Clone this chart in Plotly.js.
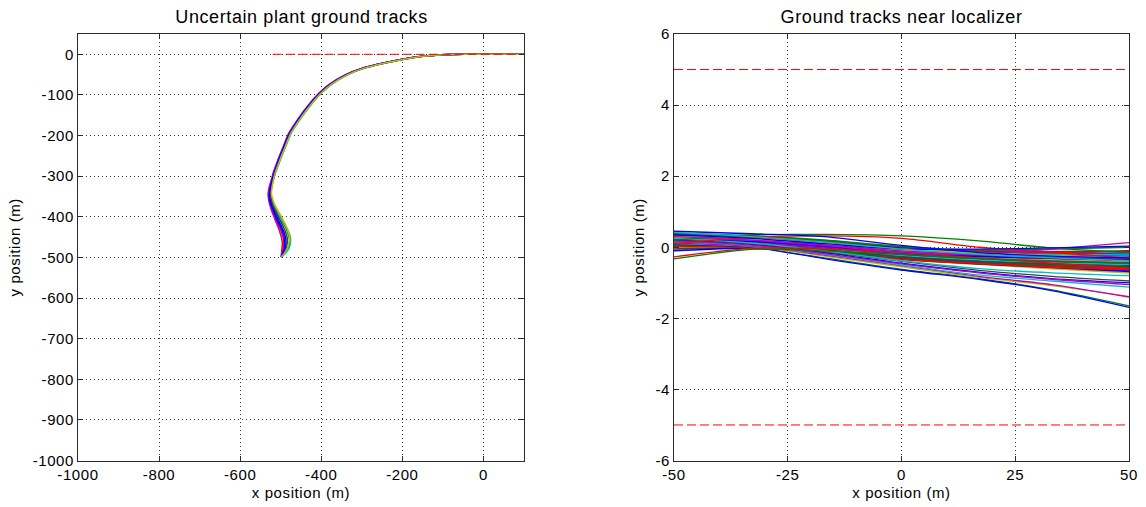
<!DOCTYPE html>
<html>
<head>
<meta charset="utf-8">
<script src="https://cdn.plot.ly/plotly-3.0.1.min.js"></script>
<style>
  html, body { margin: 0; padding: 0; background: #ffffff; }
  #chart { width: 1146px; height: 507px; }
  #chart text { letter-spacing: 0.6px; }
</style>
</head>
<body>
<div id="chart"></div>
<script>
// ---- Uncertain plant ground tracks (whole approach, metres) ----
// Every track shares the same y sample levels; x is listed per track.
var trackLevels = [-499,-490,-478,-465,-452,-438,-424,-410,-396,-383,-370,-356,-342,-325,-309,-290,-276,-255,-235,-215,-194,-157,-124,-96,-75,-50,-34,-22,-12,-5,-1,0,0,0];

var trackA = [-499,-494,-489,-487,-488,-492,-498,-505,-511,-517,-522,-526,-527,-524,-520,-515,-510,-502,-494,-486,-477,-453,-428,-403,-379,-337,-296,-247,-198,-150,-100,-50,0,100];
var trackB = [-499,-490,-481,-478,-479,-483,-489,-497,-504,-511,-517,-522,-524,-522,-518,-513,-508,-500,-492,-484,-475,-451,-426,-401,-377,-335,-294,-245,-196,-149,-99,-50,0,100];
var trackC = [-499,-497,-494,-493,-494,-498,-504,-511,-517,-522,-526,-529,-530,-527,-522,-517,-512,-504,-496,-488,-479,-455,-430,-405,-381,-339,-298,-249,-200,-151,-101,-50,0,100];
var trackD = [-499,-488,-480,-476,-476,-480,-487,-496,-504,-512,-518,-523,-525,-523,-519,-512,-507,-499,-491,-483,-474,-450,-425,-400,-376,-334,-293,-244,-195,-148,-99,-50,0,100];
var trackE = [-499,-498,-497,-496,-498,-502,-507,-513,-518,-523,-527,-530,-531,-528,-523,-518,-513,-505,-497,-489,-480,-456,-431,-406,-382,-340,-299,-250,-201,-152,-101,-50,0,100];
var trackF = [-499,-492,-486,-484,-484,-488,-494,-501,-508,-514,-520,-524,-526,-523,-519,-514,-509,-501,-493,-485,-476,-452,-427,-402,-378,-336,-295,-246,-197,-149,-100,-50,0,100];
var trackG = [-499,-495,-491,-490,-491,-495,-501,-508,-514,-519,-524,-528,-528,-525,-521,-516,-511,-503,-495,-487,-478,-454,-429,-404,-380,-338,-297,-248,-199,-151,-100,-50,0,100];
var trackH = [-499,-491,-484,-480,-478,-481,-486,-493,-500,-508,-515,-520,-523,-521,-518,-513,-508,-500,-492,-484,-475,-451,-426,-401,-377,-335,-294,-245,-196,-149,-99,-50,0,100];
var wideTracks = [trackA, trackB, trackC, trackD, trackE, trackF, trackG, trackH];
var wideColors = ['b', 'g', 'r', 'c', 'm', 'k', 'b', 'y'];

// Runway centreline on the wide view
var centerlineX = [-520, 100];
var centerlineY = [0, 0];

// ---- Ground tracks near the localizer (metres) ----
var nearX = [-50, -33, -17, 0, 17, 33, 50];

// the dense bundle (coloured in plotting order)
var bundleTracks = [
  [0.35, 0.28, 0.15, -0.05, -0.15, -0.20, -0.25],
  [0.30, 0.25, 0.10, -0.10, -0.20, -0.25, -0.30],
  [0.28, 0.20, 0.05, -0.15, -0.25, -0.30, -0.35],
  [0.25, 0.20, 0.08, -0.12, -0.28, -0.35, -0.40],
  [0.22, 0.15, 0.00, -0.20, -0.30, -0.38, -0.45],
  [0.20, 0.15, 0.02, -0.18, -0.32, -0.40, -0.50],
  [0.18, 0.12, -0.02, -0.22, -0.35, -0.42, -0.48],
  [0.15, 0.10, -0.05, -0.25, -0.38, -0.45, -0.55],
  [0.12, 0.08, -0.08, -0.28, -0.40, -0.48, -0.58],
  [0.10, 0.05, -0.10, -0.30, -0.42, -0.50, -0.60],
  [0.32, 0.22, 0.08, -0.08, -0.18, -0.22, -0.15],
  [0.05, 0.02, -0.12, -0.32, -0.45, -0.55, -0.65],
  [0.00, 0.00, -0.15, -0.35, -0.48, -0.60, -0.72],
  [0.38, 0.30, 0.18, 0.00, -0.10, -0.12, -0.10],
  [0.27, 0.22, 0.12, -0.02, -0.12, -0.18, -0.20],
  [0.24, 0.18, 0.06, -0.14, -0.24, -0.30, -0.33],
  [0.20, 0.17, 0.04, -0.16, -0.27, -0.33, -0.38],
  [0.16, 0.14, 0.00, -0.20, -0.33, -0.37, -0.42],
  [0.14, 0.10, -0.03, -0.24, -0.36, -0.43, -0.52],
  [0.08, 0.06, -0.07, -0.27, -0.39, -0.46, -0.53],
  [-0.05, -0.02, -0.10, -0.30, -0.44, -0.52, -0.62],
  [-0.10, -0.03, -0.13, -0.33, -0.47, -0.57, -0.68],
  [0.40, 0.32, 0.20, 0.02, -0.08, -0.05, 0.00],
  [0.33, 0.27, 0.14, -0.04, -0.13, -0.15, -0.12],
  [0.30, 0.23, 0.10, -0.07, -0.17, -0.20, -0.22],
  [0.26, 0.19, 0.07, -0.10, -0.22, -0.28, -0.30],
  [0.23, 0.16, 0.03, -0.17, -0.29, -0.36, -0.42],
  [0.19, 0.13, -0.01, -0.21, -0.34, -0.41, -0.47],
  [0.13, 0.09, -0.06, -0.26, -0.37, -0.44, -0.50],
  [0.06, 0.04, -0.09, -0.29, -0.41, -0.49, -0.57],
  [0.02, 0.01, -0.14, -0.34, -0.46, -0.56, -0.62],
  [0.09, 0.07, -0.06, -0.24, -0.36, -0.44, -0.48],
  [0.17, 0.13, 0.01, -0.19, -0.31, -0.39, -0.44],
  [0.29, 0.24, 0.11, -0.06, -0.16, -0.24, -0.28],
  [0.11, 0.07, -0.07, -0.27, -0.40, -0.47, -0.54],
  [0.21, 0.16, 0.03, -0.16, -0.26, -0.31, -0.36]
];

// tracks that leave the main bundle
var outlierTracks = [
  [0.05, 0.00, -0.30, -0.62, -0.88, -1.20, -1.65],
  [0.08, 0.00, -0.32, -0.64, -0.90, -1.22, -1.69],
  [0.10, 0.02, -0.25, -0.55, -0.85, -1.08, -1.38],
  [0.12, 0.03, -0.22, -0.52, -0.82, -1.05, -1.40],
  [0.15, 0.05, -0.20, -0.50, -0.78, -0.95, -1.12],
  [0.20, 0.08, -0.15, -0.45, -0.70, -0.88, -1.00],
  [0.18, 0.06, -0.18, -0.47, -0.72, -0.90, -1.05],
  [0.22, 0.10, -0.12, -0.40, -0.65, -0.82, -0.95],
  [0.25, 0.12, -0.10, -0.38, -0.60, -0.72, -0.80],
  [-0.27, -0.03, -0.05, -0.15, -0.30, -0.45, -0.60],
  [-0.33, -0.06, -0.10, -0.20, -0.32, -0.40, -0.45],
  [0.20, 0.35, 0.36, 0.32, 0.18, -0.02, -0.15],
  [0.10, 0.28, 0.32, 0.25, 0.00, -0.15, -0.30],
  [0.30, 0.20, 0.05, -0.15, -0.20, -0.05, 0.13],
  [0.35, 0.25, 0.10, -0.05, -0.05, -0.02, 0.03],
  [0.45, 0.38, 0.30, 0.05, -0.15, -0.25, -0.30],
  [0.42, 0.30, 0.15, -0.05, -0.20, -0.30, -0.38]
];
var outlierColors = ['g', 'b', 'y', 'm', 'c', 'b', 'm', 'k', 'c', 'r', 'g', 'g', 'r', 'm', 'b', 'b', 'c'];

// Lateral limits of the localizer window
var limitX = [-50, 50];
var upperLimitY = [5, 5];
var lowerLimitY = [-5, -5];

// Tick labels (plain hyphen minus)
var wideXTicks = [-1000, -800, -600, -400, -200, 0];
var wideXText = ['-1000', '-800', '-600', '-400', '-200', '0'];
var wideYTicks = [0, -100, -200, -300, -400, -500, -600, -700, -800, -900, -1000];
var wideYText = ['0', '-100', '-200', '-300', '-400', '-500', '-600', '-700', '-800', '-900', '-1000'];
var nearXTicks = [-50, -25, 0, 25, 50];
var nearXText = ['-50', '-25', '0', '25', '50'];
var nearYTicks = [6, 4, 2, 0, -2, -4, -6];
var nearYText = ['6', '4', '2', '0', '-2', '-4', '-6'];

// Classic line colour letters
var palette = { b: '#0000ff', g: '#008000', r: '#ff0000', c: '#00bfbf', m: '#bf00bf', y: '#bfbf00', k: '#404040' };
var cycle = ['b', 'g', 'r', 'c', 'm', 'y', 'k'];

var traces = [];

wideTracks.forEach(function (tx, i) {
  traces.push({
    type: 'scatter', mode: 'lines', xaxis: 'x', yaxis: 'y',
    x: tx, y: trackLevels,
    line: { color: palette[wideColors[i]], width: 1.5, shape: 'spline', smoothing: 0.7 },
    hoverinfo: 'skip', showlegend: false
  });
});
traces.push({
  type: 'scatter', mode: 'lines', xaxis: 'x', yaxis: 'y',
  x: centerlineX, y: centerlineY,
  line: { color: '#ff0000', width: 1, dash: '9px,4px' },
  hoverinfo: 'skip', showlegend: false
});

bundleTracks.forEach(function (ty, i) {
  traces.push({
    type: 'scatter', mode: 'lines', xaxis: 'x2', yaxis: 'y2',
    x: nearX, y: ty,
    line: { color: palette[cycle[i % cycle.length]], width: 1.6, shape: 'spline', smoothing: 0.8 },
    hoverinfo: 'skip', showlegend: false
  });
});
outlierTracks.forEach(function (ty, i) {
  traces.push({
    type: 'scatter', mode: 'lines', xaxis: 'x2', yaxis: 'y2',
    x: nearX, y: ty,
    line: { color: palette[outlierColors[i]], width: 1.3, shape: 'spline', smoothing: 0.8 },
    hoverinfo: 'skip', showlegend: false
  });
});
[upperLimitY, lowerLimitY].forEach(function (ly) {
  traces.push({
    type: 'scatter', mode: 'lines', xaxis: 'x2', yaxis: 'y2',
    x: limitX, y: ly,
    line: { color: '#ff0000', width: 1, dash: '9px,4px' },
    hoverinfo: 'skip', showlegend: false
  });
});

var FONT = 'Liberation Sans, Arial, Helvetica, sans-serif';
function axisStyle(extra) {
  var base = {
    showline: true, linecolor: '#2b2b2b', linewidth: 1, mirror: 'ticks',
    ticks: 'inside', ticklen: 5, tickwidth: 1, tickcolor: '#2b2b2b',
    showgrid: true, gridcolor: '#333333', gridwidth: 1, griddash: '1px,3px',
    zeroline: false, fixedrange: true, tickmode: 'array',
    tickfont: { family: FONT, size: 15, color: '#000000' }
  };
  for (var key in extra) { base[key] = extra[key]; }
  return base;
}
var axisTitleFont = { family: FONT, size: 15, color: '#000000' };

var topY = 1 - 34 / 507, botY = 1 - 460.5 / 507;

var layout = {
  width: 1146, height: 507,
  margin: { l: 0, r: 0, t: 0, b: 0 },
  paper_bgcolor: '#ffffff', plot_bgcolor: '#ffffff',
  font: { family: FONT, color: '#000000' },
  xaxis: axisStyle({
    domain: [78 / 1146, 524 / 1146], range: [-1000, 100], anchor: 'y',
    tickvals: wideXTicks, ticktext: wideXText,
    title: { text: 'x position (m)', font: axisTitleFont, standoff: 5 }
  }),
  yaxis: axisStyle({
    domain: [botY, topY], range: [-1000, 50], anchor: 'x',
    tickvals: wideYTicks, ticktext: wideYText,
    title: { text: 'y position (m)', font: axisTitleFont, standoff: 11 }
  }),
  xaxis2: axisStyle({
    domain: [674 / 1146, 1129 / 1146], range: [-50, 50], anchor: 'y2',
    tickvals: nearXTicks, ticktext: nearXText,
    title: { text: 'x position (m)', font: axisTitleFont, standoff: 5 }
  }),
  yaxis2: axisStyle({
    domain: [botY, topY], range: [-6, 6], anchor: 'x2',
    tickvals: nearYTicks, ticktext: nearYText,
    title: { text: 'y position (m)', font: axisTitleFont, standoff: 8 }
  }),
  annotations: [
    { text: 'Uncertain plant ground tracks', xref: 'paper', yref: 'paper',
      x: (78 + 524) / 2 / 1146, y: 1 - 17 / 507, xanchor: 'center', yanchor: 'middle',
      showarrow: false, font: { family: FONT, size: 18, color: '#000000' } },
    { text: 'Ground tracks near localizer', xref: 'paper', yref: 'paper',
      x: (674 + 1129) / 2 / 1146, y: 1 - 17 / 507, xanchor: 'center', yanchor: 'middle',
      showarrow: false, font: { family: FONT, size: 18, color: '#000000' } }
  ]
};

Plotly.newPlot('chart', traces, layout, { displayModeBar: false, staticPlot: true });
</script>
</body>
</html>
